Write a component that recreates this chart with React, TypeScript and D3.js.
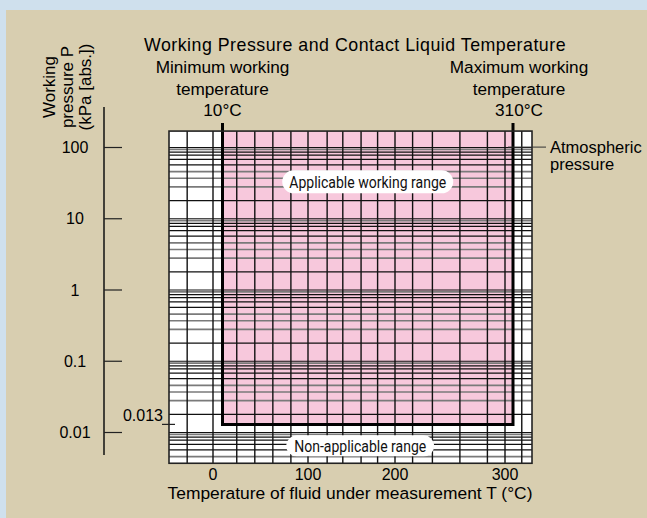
import { useEffect, useRef } from "react";
import * as d3 from "d3";

const width = 647;
const height = 518;

// pressure axis, kPa [abs.], log
const pressureTicks = [100, 10, 1, 0.1, 0.01];
const pressureTickLabels = ["100", "10", "1", "0.1", "0.01"];
const pressureExtent = [0.0037, 170];
const gridDecades = [0.001, 0.01, 0.1, 1, 10, 100];
const gridMantissas = [1, 1.8, 2.8, 3.7, 4.6, 5.7, 6.8, 7.8, 8.6, 9.4];
const greyMantissas = [2.8, 3.7, 4.6, 9.4];

// temperature axis, °C
const tempTicks = [0, 100, 200, 300];
const tempExtent = [-46, 323];
const gridTemps = [-27, 0, 25, 44, 63, 82, 100, 122, 140, 161, 180, 200, 216, 234, 259, 284, 300, 316];

const minTemp = 10;
const maxTemp = 310;
const minPressure = 0.013;
const atmPressure = 101.3;

const font = "'Liberation Sans', Arial, Helvetica, sans-serif";
const narrowFont = "Roboto, 'Liberation Sans', sans-serif";

const App = () => {
  const ref = useRef<SVGSVGElement>(null);

  useEffect(() => {
    const svg = d3.select(ref.current);
    svg.selectAll("*").remove();

    const x = d3.scaleLinear()
      .domain([tempExtent[0], 0, 100, 200, 300, maxTemp, tempExtent[1]])
      .range([169, 213, 308, 395, 505, 513, 532]);
    const y = d3.scaleLog().domain([0.01, 100]).range([432.5, 147.5]);

    const left = x(tempExtent[0]);
    const right = x(tempExtent[1]);
    const top = y(pressureExtent[1]);
    const bottom = y(pressureExtent[0]);

    // backgrounds
    svg.append("rect").attr("width", width).attr("height", height).attr("fill", "#cfe0ed");
    svg.append("rect").attr("x", 6).attr("y", 10).attr("width", width - 6).attr("height", height - 10).attr("fill", "#d8ceb0");

    svg.append("rect")
      .attr("x", left).attr("y", top)
      .attr("width", right - left).attr("height", bottom - top)
      .attr("fill", "#fff");

    // applicable range
    svg.append("rect")
      .attr("x", x(minTemp)).attr("y", top)
      .attr("width", x(maxTemp) - x(minTemp)).attr("height", y(minPressure) - top)
      .attr("fill", "#f7c8dc");

    // horizontal log grid
    const hValues: { v: number; grey: boolean }[] = [];
    gridDecades.forEach(d => {
      gridMantissas.forEach(m => {
        const v = d * m;
        if (v > pressureExtent[0] && v <= 100) hValues.push({ v, grey: greyMantissas.includes(m) });
      });
    });
    svg.append("g")
      .selectAll("line")
      .data(hValues)
      .join("line")
      .attr("x1", left).attr("x2", right)
      .attr("y1", d => y(d.v)).attr("y2", d => y(d.v))
      .attr("stroke", d => d.grey ? "#7a7a7a" : "#111")
      .attr("stroke-width", d => d.grey ? 1.7 : 1.2);

    // vertical grid
    svg.append("g")
      .selectAll("line")
      .data(gridTemps)
      .join("line")
      .attr("x1", d => x(d)).attr("x2", d => x(d))
      .attr("y1", top).attr("y2", bottom)
      .attr("stroke", "#111")
      .attr("stroke-width", 1.4);

    // boundary of working range
    svg.append("path")
      .attr("d", `M${x(minTemp)},${top - 8}V${y(minPressure)}H${x(maxTemp)}V${top - 8}`)
      .attr("fill", "none")
      .attr("stroke", "#000")
      .attr("stroke-width", 3);

    svg.append("rect")
      .attr("x", left).attr("y", top)
      .attr("width", right - left).attr("height", bottom - top)
      .attr("fill", "none")
      .attr("stroke", "#222")
      .attr("stroke-width", 1.6);

    // atmospheric pressure
    svg.append("line")
      .attr("x1", x(maxTemp) - 5).attr("x2", right + 14)
      .attr("y1", y(atmPressure)).attr("y2", y(atmPressure))
      .attr("stroke", "#333").attr("stroke-width", 1);
    svg.append("text")
      .attr("x", right + 18).attr("y", y(atmPressure) + 6)
      .attr("font-family", font).attr("font-size", 16.5)
      .text("Atmospheric");
    svg.append("text")
      .attr("x", right + 18).attr("y", y(atmPressure) + 23)
      .attr("font-family", font).attr("font-size", 16.5)
      .text("pressure");

    // labels in pills (condensed lettering)
    const pill = (cx: number, cy: number, w: number, h: number, tw: number, label: string) => {
      svg.append("rect")
        .attr("x", cx - w / 2).attr("y", cy - h / 2)
        .attr("width", w).attr("height", h)
        .attr("rx", h / 2)
        .attr("fill", "#fff");
      svg.append("text")
        .attr("x", cx).attr("y", cy + 6)
        .attr("text-anchor", "middle")
        .attr("font-family", narrowFont).attr("font-size", 17)
        .attr("textLength", tw)
        .attr("lengthAdjust", "spacingAndGlyphs")
        .attr("fill", "#111")
        .text(label);
    };
    pill((x(minTemp) + x(maxTemp)) / 2, y(33), 171, 23, 157, "Applicable working range");
    pill(x((minTemp + maxTemp) / 2), (y(minPressure) + bottom) / 2 + 2, 148, 21, 132, "Non-applicable range");

    // y axis
    const axisX = 104;
    svg.append("line")
      .attr("x1", axisX).attr("x2", axisX)
      .attr("y1", 107).attr("y2", 455)
      .attr("stroke", "#111").attr("stroke-width", 1.5);
    const yt = svg.append("g");
    yt.selectAll("line")
      .data(pressureTicks)
      .join("line")
      .attr("x1", axisX).attr("x2", axisX + 18)
      .attr("y1", d => y(d)).attr("y2", d => y(d))
      .attr("stroke", "#222").attr("stroke-width", 1.2);
    yt.selectAll("text")
      .data(pressureTicks)
      .join("text")
      .attr("x", 75).attr("y", d => y(d) + 5.5)
      .attr("text-anchor", "middle")
      .attr("font-family", font).attr("font-size", 16)
      .text((d, i) => pressureTickLabels[i]);

    // minimum pressure label
    svg.append("line")
      .attr("x1", left - 7).attr("x2", left + 6)
      .attr("y1", y(minPressure)).attr("y2", y(minPressure))
      .attr("stroke", "#222").attr("stroke-width", 1.2);
    svg.append("text")
      .attr("x", left - 6).attr("y", y(minPressure) - 3)
      .attr("text-anchor", "end")
      .attr("font-family", font).attr("font-size", 16)
      .text(String(minPressure));

    const yLabel = ["Working", "pressure P", "(kPa [abs.])"];
    svg.append("g")
      .selectAll("text")
      .data(yLabel)
      .join("text")
      .attr("transform", (d, i) => `translate(${55 + i * 18},87) rotate(-90)`)
      .attr("text-anchor", "middle")
      .attr("font-family", font).attr("font-size", 17)
      .text(d => d);

    // x axis labels
    svg.append("g")
      .selectAll("text")
      .data(tempTicks)
      .join("text")
      .attr("x", d => x(d)).attr("y", 480)
      .attr("text-anchor", "middle")
      .attr("font-family", font).attr("font-size", 16)
      .text(d => d);
    svg.append("text")
      .attr("x", 350).attr("y", 499)
      .attr("text-anchor", "middle")
      .attr("font-family", font).attr("font-size", 17.4)
      .text("Temperature of fluid under measurement T (°C)");

    // titles
    svg.append("text")
      .attr("x", 355).attr("y", 50.5)
      .attr("text-anchor", "middle")
      .attr("font-family", font).attr("font-size", 17.8)
      .attr("letter-spacing", 0.5)
      .text("Working Pressure and Contact Liquid Temperature");

    const tempNotes = [
      { t: minTemp, dx: 0, lines: ["Minimum working", "temperature", `${minTemp}°C`] },
      { t: maxTemp, dx: 6, lines: ["Maximum working", "temperature", `${maxTemp}°C`] },
    ];
    tempNotes.forEach(n => {
      svg.append("g")
        .selectAll("text")
        .data(n.lines)
        .join("text")
        .attr("x", x(n.t) + n.dx)
        .attr("y", (d, i) => 73.3 + i * 21.2)
        .attr("text-anchor", "middle")
        .attr("font-family", font).attr("font-size", 17.2)
        .text(d => d);
    });
  }, []);

  return (
    <svg
      ref={ref}
      width={width}
      height={height}
      style={{ position: "absolute", left: 0, top: 0, display: "block" }}
    />
  );
};

export default App;
